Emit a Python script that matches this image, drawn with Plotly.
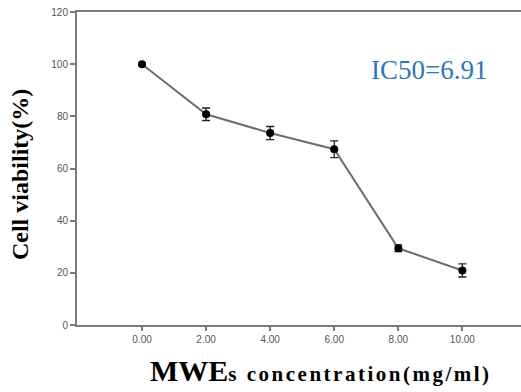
import plotly.graph_objects as go

# Cell viability vs. MWEs concentration
concentration = [0, 2, 4, 6, 8, 10]
viability = [100.0, 80.8, 73.6, 67.4, 29.4, 20.9]
viability_sd = [0.5, 2.4, 2.5, 3.2, 1.3, 2.5]
x_ticks = [0, 2, 4, 6, 8, 10]
x_tick_labels = ["0.00", "2.00", "4.00", "6.00", "8.00", "10.00"]
y_ticks = [0, 20, 40, 60, 80, 100, 120]
ic50_label = "IC50=6.91"

fig = go.Figure()
fig.add_trace(go.Scatter(
    x=concentration,
    y=viability,
    mode="lines+markers",
    line=dict(color="#6e6e6e", width=2),
    marker=dict(color="black", size=8, symbol="circle"),
    error_y=dict(type="data", array=viability_sd, visible=True,
                 color="#222222", thickness=1.3, width=4),
    showlegend=False,
))

axis_color = "#7a7a7a"
tick_font = dict(family="Liberation Sans, Arial", size=10, color="#555555")

fig.update_xaxes(
    range=[-2.03, 11.83],
    tickvals=x_ticks,
    ticktext=x_tick_labels,
    ticks="outside", ticklen=4, tickwidth=1.5, tickcolor=axis_color,
    showline=True, linecolor=axis_color, linewidth=2, mirror=True,
    showgrid=False, zeroline=False,
    tickfont=tick_font,
)
fig.update_yaxes(
    range=[0, 120],
    tickvals=y_ticks,
    ticks="outside", ticklen=5, tickwidth=1.5, tickcolor=axis_color,
    showline=True, linecolor=axis_color, linewidth=2, mirror=False,
    showgrid=False, zeroline=False,
    tickfont=tick_font,
)

serif = "Liberation Serif, Times New Roman, serif"
fig.add_annotation(
    text=("<b><span style='font-size:30px'>MWE</span>"
          "<span style='font-size:21px;letter-spacing:2.5px'>s concentration(mg/ml)</span></b>"),
    xref="paper", yref="paper", x=0.55, y=-0.085,
    xanchor="center", yanchor="top", showarrow=False,
    font=dict(family=serif, size=21, color="black"),
)
fig.add_annotation(
    text="<b>Cell viability(%)</b>",
    xref="paper", yref="paper", x=-0.13, y=0.48,
    xanchor="center", yanchor="middle", textangle=-90, showarrow=False,
    font=dict(family=serif, size=24, color="black"),
)
fig.add_annotation(
    text=ic50_label,
    xref="paper", yref="paper", x=0.792, y=0.815,
    xanchor="center", yanchor="middle", showarrow=False,
    font=dict(family=serif, size=27, color="#2a78c2"),
)

fig.update_layout(
    width=521, height=392,
    margin=dict(l=77, r=0, t=12, b=67),
    paper_bgcolor="white", plot_bgcolor="white",
)

fig.write_html("out.html")
